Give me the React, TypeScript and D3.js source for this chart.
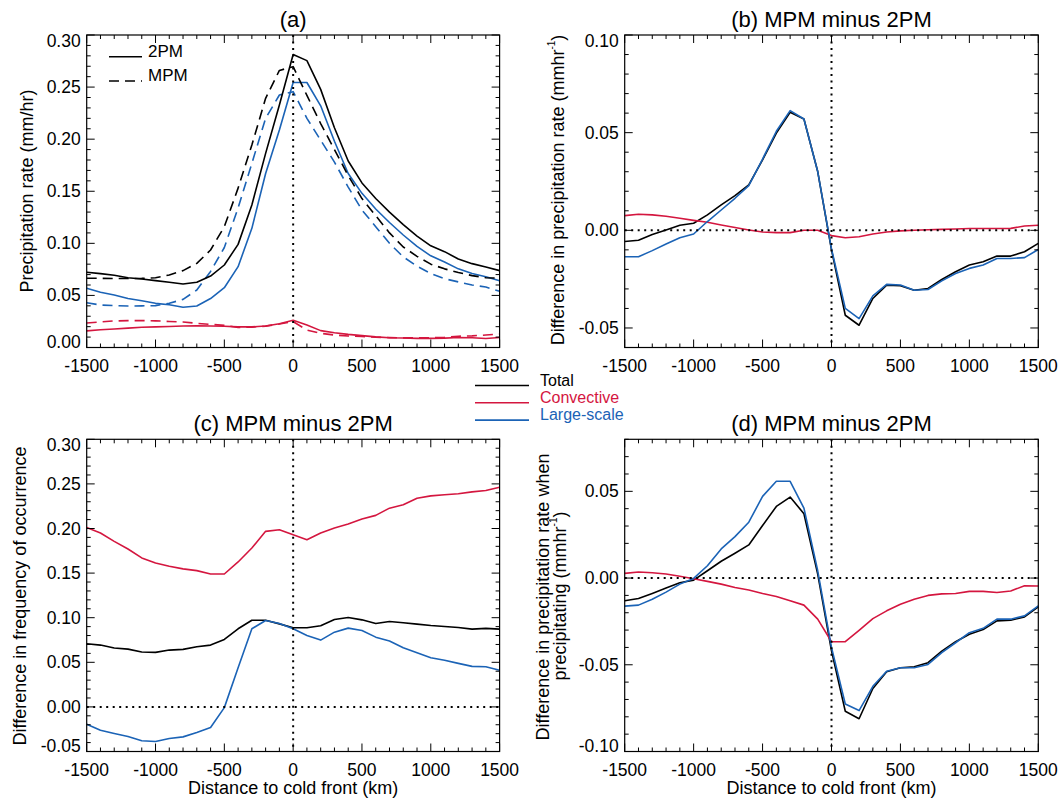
import React from 'react';
import * as d3 from 'd3';

// ---------- data ----------
const distanceKm = [-1500, -1400, -1300, -1200, -1100, -1000, -900, -800, -700, -600, -500, -400, -300, -200, -100, 0,
  100, 200, 300, 400, 500, 600, 700, 800, 900, 1000, 1100, 1200, 1300, 1400, 1500];

const xTickValues = [-1500, -1000, -500, 0, 500, 1000, 1500];

// (a) precipitation rate (mm/hr)
const a2pmTotal = [0.0722, 0.0709, 0.0693, 0.0670, 0.0658, 0.0642, 0.0626, 0.0610, 0.0626, 0.0686, 0.0792, 0.0990, 0.1368, 0.1864, 0.2328, 0.2812,
  0.2754, 0.2478, 0.2110, 0.1790, 0.1580, 0.1430, 0.1300, 0.1180, 0.1070, 0.0976, 0.0920, 0.0850, 0.0805, 0.0772, 0.0738];
const aMpmTotal = [0.0665, 0.0664, 0.0662, 0.0662, 0.0664, 0.0670, 0.0696, 0.0738, 0.0808, 0.0936, 0.1160, 0.1530, 0.1944, 0.2392, 0.2660, 0.2696,
  0.2420, 0.2150, 0.1900, 0.1650, 0.1430, 0.1265, 0.1100, 0.0965, 0.0875, 0.0800, 0.0755, 0.0720, 0.0690, 0.0670, 0.0665];
const a2pmLarge = [0.0568, 0.0530, 0.0504, 0.0470, 0.0448, 0.0424, 0.0410, 0.0386, 0.0398, 0.0470, 0.0574, 0.0776, 0.1144, 0.1670, 0.2088, 0.2544,
  0.2544, 0.2320, 0.1980, 0.1670, 0.1480, 0.1330, 0.1200, 0.1080, 0.0970, 0.0880, 0.0820, 0.0755, 0.0710, 0.0680, 0.0640];
const aMpmLarge = [0.0430, 0.0408, 0.0402, 0.0398, 0.0400, 0.0402, 0.0424, 0.0462, 0.0552, 0.0730, 0.0960, 0.1340, 0.1768, 0.2200, 0.2424, 0.2456,
  0.2200, 0.1990, 0.1780, 0.1540, 0.1320, 0.1160, 0.1000, 0.0870, 0.0780, 0.0710, 0.0660, 0.0630, 0.0600, 0.0580, 0.0540];
const a2pmConv = [0.0160, 0.0170, 0.0178, 0.0186, 0.0194, 0.0198, 0.0202, 0.0206, 0.0208, 0.0206, 0.0204, 0.0198, 0.0198, 0.0206, 0.0228, 0.0262,
  0.0216, 0.0162, 0.0142, 0.0126, 0.0114, 0.0102, 0.0094, 0.0091, 0.0088, 0.0088, 0.0090, 0.0096, 0.0094, 0.0086, 0.0096];
const aMpmConv = [0.0235, 0.0245, 0.0255, 0.0258, 0.0258, 0.0256, 0.0250, 0.0245, 0.0232, 0.0222, 0.0212, 0.0192, 0.0196, 0.0205, 0.0225, 0.0248,
  0.0168, 0.0136, 0.0120, 0.0110, 0.0105, 0.0098, 0.0095, 0.0092, 0.0092, 0.0094, 0.0098, 0.0108, 0.0112, 0.0120, 0.0129];

// (b) difference in precipitation rate
const bTotal = [-0.0057, -0.0051, -0.0022, 0.0002, 0.0026, 0.0036, 0.0079, 0.0130, 0.0178, 0.0233, 0.0361, 0.0498, 0.0604, 0.0570, 0.0301, -0.0100,
  -0.0435, -0.0486, -0.0349, -0.0281, -0.0284, -0.0307, -0.0298, -0.0252, -0.0212, -0.0178, -0.0161, -0.0132, -0.0132, -0.0110, -0.0067];
const bConv = [0.0075, 0.0082, 0.0079, 0.0072, 0.0062, 0.0051, 0.0041, 0.0027, 0.0014, 0.0002, -0.0009, -0.0012, -0.0012, 0.0000, 0.0000, -0.0027,
  -0.0038, -0.0033, -0.0019, -0.0009, -0.0003, 0.0000, 0.0003, 0.0005, 0.0007, 0.0009, 0.0009, 0.0009, 0.0010, 0.0022, 0.0026];
const bLarge = [-0.0135, -0.0135, -0.0104, -0.0070, -0.0038, -0.0019, 0.0045, 0.0104, 0.0164, 0.0229, 0.0365, 0.0507, 0.0613, 0.0570, 0.0301, -0.0095,
  -0.0400, -0.0452, -0.0336, -0.0277, -0.0280, -0.0307, -0.0303, -0.0259, -0.0221, -0.0195, -0.0178, -0.0144, -0.0144, -0.0140, -0.0098];

// (c) difference in frequency of occurrence
const cConv = [0.2012, 0.1949, 0.1856, 0.1770, 0.1670, 0.1614, 0.1576, 0.1547, 0.1528, 0.1490, 0.1490, 0.1625, 0.1781, 0.1968, 0.1986, 0.1930,
  0.1874, 0.1949, 0.2005, 0.2050, 0.2106, 0.2147, 0.2228, 0.2266, 0.2340, 0.2366, 0.2378, 0.2389, 0.2411, 0.2426, 0.2463];
const cTotal = [0.0708, 0.0693, 0.0660, 0.0648, 0.0615, 0.0611, 0.0637, 0.0645, 0.0674, 0.0693, 0.0756, 0.0876, 0.0972, 0.0972, 0.0931, 0.0887,
  0.0887, 0.0909, 0.0980, 0.1002, 0.0976, 0.0935, 0.0958, 0.0943, 0.0928, 0.0913, 0.0902, 0.0891, 0.0872, 0.0880, 0.0872];
const cLarge = [-0.0194, -0.0261, -0.0298, -0.0332, -0.0380, -0.0388, -0.0354, -0.0336, -0.0287, -0.0231, -0.0008, 0.0439, 0.0876, 0.0969, 0.0935, 0.0876,
  0.0801, 0.0749, 0.0838, 0.0883, 0.0857, 0.0782, 0.0738, 0.0663, 0.0607, 0.0551, 0.0522, 0.0488, 0.0454, 0.0450, 0.0410];

// (d) difference in precipitation rate when precipitating
const dTotal = [-0.0131, -0.0118, -0.0089, -0.0058, -0.0027, -0.0012, 0.0042, 0.0097, 0.0143, 0.0191, 0.0303, 0.0413, 0.0467, 0.0371, 0.0023, -0.0420,
  -0.0768, -0.0811, -0.0637, -0.0540, -0.0517, -0.0512, -0.0488, -0.0421, -0.0367, -0.0324, -0.0297, -0.0247, -0.0243, -0.0224, -0.0166];
const dLarge = [-0.0162, -0.0156, -0.0122, -0.0081, -0.0035, -0.0002, 0.0071, 0.0168, 0.0239, 0.0322, 0.0471, 0.0558, 0.0558, 0.0403, 0.0042, -0.0400,
  -0.0726, -0.0764, -0.0624, -0.0537, -0.0517, -0.0517, -0.0498, -0.0430, -0.0373, -0.0315, -0.0290, -0.0237, -0.0237, -0.0218, -0.0160];
const dConv = [0.0027, 0.0035, 0.0031, 0.0023, 0.0010, -0.0004, -0.0019, -0.0035, -0.0054, -0.0069, -0.0089, -0.0106, -0.0131, -0.0156, -0.0237, -0.0367,
  -0.0367, -0.0301, -0.0234, -0.0189, -0.0151, -0.0122, -0.0100, -0.0091, -0.0089, -0.0077, -0.0077, -0.0083, -0.0075, -0.0044, -0.0046];

const aYTicks = [0, 0.05, 0.1, 0.15, 0.2, 0.25, 0.3];
const bYTicks = [-0.05, 0, 0.05, 0.1];
const cYTicks = [-0.05, 0, 0.05, 0.1, 0.15, 0.2, 0.25, 0.3];
const dYTicks = [-0.1, -0.05, 0, 0.05];

const legendNames = ['Total', 'Convective', 'Large-scale'];
const modelNames = ['2PM', 'MPM'];

// ---------- style ----------
const FONT = '"Liberation Sans", Arial, Helvetica, sans-serif';
const BLACK = '#000000';
const RED = '#d4163f';
const BLUE = '#1b63b6';
const DASH = '10,6';

type Box = { l: number; r: number; t: number; b: number };
type Series = { values: number[]; color: string; dash?: string };

const fmtY = (v: number) => {
  const s = Math.abs(v).toFixed(2);
  return v < -1e-9 ? '-' + s : s;
};

function Panel(props: {
  box: Box;
  yDomain: [number, number];
  yTicks: number[];
  series: Series[];
  zeroLine: boolean;
  title: string;
  yTitle: React.ReactNode;
  xTitle?: string;
}) {
  const { box, yDomain, yTicks, series, zeroLine, title, yTitle, xTitle } = props;
  const x = d3.scaleLinear().domain([-1500, 1500]).range([box.l, box.r]);
  const y = d3.scaleLinear().domain(yDomain).range([box.b, box.t]);
  const line = d3.line<number>().x((_, i) => x(distanceKm[i])).y((d) => y(d));

  const xMinor = d3.range(-1500, 1501, 100);
  const yStart = Math.round(yDomain[0] * 100);
  const yEnd = Math.round(yDomain[1] * 100);
  const yMinor = d3.range(yStart, yEnd + 1).map((k) => k / 100);
  const MAJ = 8;
  const MIN = 4;

  const tickEls: React.ReactNode[] = [];
  xMinor.forEach((v, i) => {
    const major = v % 500 === 0;
    const len = major ? MAJ : MIN;
    const xx = x(v);
    tickEls.push(<line key={'xb' + i} x1={xx} x2={xx} y1={box.b} y2={box.b - len} />);
    tickEls.push(<line key={'xt' + i} x1={xx} x2={xx} y1={box.t} y2={box.t + len} />);
  });
  yMinor.forEach((v, i) => {
    const major = Math.round(v * 100) % 5 === 0;
    const len = major ? MAJ : MIN;
    const yy = y(v);
    tickEls.push(<line key={'yl' + i} x1={box.l} x2={box.l + len} y1={yy} y2={yy} />);
    tickEls.push(<line key={'yr' + i} x1={box.r} x2={box.r - len} y1={yy} y2={yy} />);
  });

  const cx = (box.l + box.r) / 2;

  return (
    <g>
      {series.map((s, i) => (
        <path key={'s' + i} d={line(s.values) || ''} fill="none" stroke={s.color} strokeWidth={1.6}
          strokeDasharray={s.dash} strokeLinejoin="round" />
      ))}
      <line x1={x(0)} x2={x(0)} y1={box.t} y2={box.b} stroke="#000" strokeWidth={2} strokeDasharray="2,4.5" />
      {zeroLine && (
        <line x1={box.l} x2={box.r} y1={y(0)} y2={y(0)} stroke="#000" strokeWidth={2} strokeDasharray="2,4.5" />
      )}
      <g stroke="#000" strokeWidth={1}>{tickEls}</g>
      <rect x={box.l} y={box.t} width={box.r - box.l} height={box.b - box.t} fill="none" stroke="#000" strokeWidth={1.2} />
      <g fontFamily={FONT} fontSize={17.5} fill="#000">
        {xTickValues.map((v) => (
          <text key={'xl' + v} x={x(v)} y={box.b + 24} textAnchor="middle">{v}</text>
        ))}
        {yTicks.map((v) => {
          let yy = y(v);
          if (Math.abs(v - yDomain[1]) < 1e-9) yy += 5.5;
          if (Math.abs(v - yDomain[0]) < 1e-9) yy -= 5.5;
          return (
            <text key={'yl' + v} x={box.l - 6} y={yy} textAnchor="end" dominantBaseline="central">{fmtY(v)}</text>
          );
        })}
      </g>
      <text x={cx} y={box.t - 8.5} textAnchor="middle" fontFamily={FONT} fontSize={22}>{title}</text>
      {yTitle}
      {xTitle && (
        <text x={cx} y={box.b + 42} textAnchor="middle" fontFamily={FONT} fontSize={18}>{xTitle}</text>
      )}
    </g>
  );
}

function VText(props: { x: number; y: number; children: React.ReactNode; size?: number }) {
  return (
    <text transform={`translate(${props.x},${props.y}) rotate(-90)`} textAnchor="middle" dominantBaseline="central"
      fontFamily={FONT} fontSize={props.size ?? 18}>{props.children}</text>
  );
}

const mmhrSup = (
  <>
    (mmhr<tspan fontSize={10} dy={-7}>-1</tspan><tspan dy={7}>)</tspan>
  </>
);

export default function App() {
  const boxA: Box = { l: 86.7, r: 499.6, t: 35, b: 347.5 };
  const boxB: Box = { l: 624.7, r: 1038.3, t: 35, b: 347.5 };
  const boxC: Box = { l: 86.7, r: 499.6, t: 439.3, b: 751.5 };
  const boxD: Box = { l: 624.7, r: 1038.3, t: 439.3, b: 751.5 };

  const legendColors = [BLACK, RED, BLUE];

  return (
    <svg width={1062} height={798} style={{ position: 'absolute', left: 0, top: 0, display: 'block', background: '#fff' }}>
      <rect x={0} y={0} width={1062} height={798} fill="#fff" />
      <Panel
        box={boxA}
        yDomain={[0, 0.3]}
        yTicks={aYTicks}
        zeroLine={false}
        title="(a)"
        series={[
          { values: aMpmConv, color: RED, dash: DASH },
          { values: a2pmConv, color: RED },
          { values: aMpmLarge, color: BLUE, dash: DASH },
          { values: a2pmLarge, color: BLUE },
          { values: aMpmTotal, color: BLACK, dash: DASH },
          { values: a2pmTotal, color: BLACK },
        ]}
        yTitle={<VText x={26.5} y={191}>Precipitation rate (mm/hr)</VText>}
      />
      <Panel
        box={boxB}
        yDomain={[-0.06, 0.1]}
        yTicks={bYTicks}
        zeroLine={true}
        title="(b) MPM minus 2PM"
        series={[
          { values: bTotal, color: BLACK },
          { values: bConv, color: RED },
          { values: bLarge, color: BLUE },
        ]}
        yTitle={<VText x={557.5} y={190}>Difference in precipitation rate {mmhrSup}</VText>}
      />
      <Panel
        box={boxC}
        yDomain={[-0.05, 0.3]}
        yTicks={cYTicks}
        zeroLine={true}
        title="(c) MPM minus 2PM"
        series={[
          { values: cTotal, color: BLACK },
          { values: cConv, color: RED },
          { values: cLarge, color: BLUE },
        ]}
        yTitle={<VText x={19.5} y={596}>Difference in frequency of occurrence</VText>}
        xTitle="Distance to cold front (km)"
      />
      <Panel
        box={boxD}
        yDomain={[-0.1, 0.08]}
        yTicks={dYTicks}
        zeroLine={true}
        title="(d) MPM minus 2PM"
        series={[
          { values: dTotal, color: BLACK },
          { values: dConv, color: RED },
          { values: dLarge, color: BLUE },
        ]}
        yTitle={
          <g>
            <VText x={543} y={597}>Difference in precipitation rate when</VText>
            <VText x={559.5} y={596}>precipitating {mmhrSup}</VText>
          </g>
        }
        xTitle="Distance to cold front (km)"
      />
      {/* legend for (a) */}
      <g fontFamily={FONT} fontSize={17}>
        <line x1={109} x2={142} y1={56.7} y2={56.7} stroke="#000" strokeWidth={1.6} />
        <text x={148} y={57}>{modelNames[0]}</text>
        <line x1={109} x2={142} y1={81} y2={81} stroke="#000" strokeWidth={1.6} strokeDasharray={DASH} />
        <text x={148} y={81}>{modelNames[1]}</text>
      </g>
      {/* central legend */}
      <g fontFamily={FONT} fontSize={16}>
        {legendNames.map((name, i) => (
          <g key={name}>
            <line x1={475} x2={529} y1={385.5 + i * 17.3} y2={385.5 + i * 17.3} stroke={legendColors[i]} strokeWidth={1.6} />
            <text x={540} y={385.5 + i * 17.3} fill={legendColors[i]}>{name}</text>
          </g>
        ))}
      </g>
    </svg>
  );
}
